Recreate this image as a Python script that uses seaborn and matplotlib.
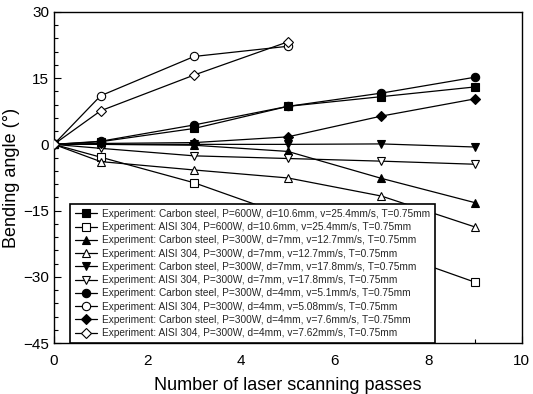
import matplotlib
matplotlib.use("Agg")
import matplotlib.pyplot as plt
from matplotlib.ticker import MultipleLocator
import seaborn as sns
import pandas as pd

sns.set_theme(style="white")
plt.rcParams['font.family'] = ['Liberation Sans', 'DejaVu Sans']

passes_full = [0, 1, 3, 5, 7, 9]
passes_short = [0, 1, 3, 5]

cs_600 = [0, 0.6, 3.6, 8.6, 10.8, 13.0]
ss_600 = [0, -2.9, -8.7, -16.2, -23.7, -31.2]
cs_d7_127 = [0, 0.0, -0.2, -1.6, -7.7, -13.2]
ss_d7_127 = [0, -3.9, -5.8, -7.6, -11.7, -18.7]
cs_d7_178 = [0, 0.0, 0.0, 0.0, 0.1, -0.6]
ss_d7_178 = [0, -0.9, -2.6, -3.2, -3.8, -4.5]
cs_d4_51 = [0, 0.7, 4.4, 8.6, 11.6, 15.2]
ss_d4_508 = [0, 11.0, 19.9, 22.2]
cs_d4_76 = [0, 0.2, 0.4, 1.7, 6.4, 10.3]
ss_d4_762 = [0, 7.6, 15.7, 23.2]

labels = [
    "Experiment: Carbon steel, P=600W, d=10.6mm, v=25.4mm/s, T=0.75mm",
    "Experiment: AISI 304, P=600W, d=10.6mm, v=25.4mm/s, T=0.75mm",
    "Experiment: Carbon steel, P=300W, d=7mm, v=12.7mm/s, T=0.75mm",
    "Experiment: AISI 304, P=300W, d=7mm, v=12.7mm/s, T=0.75mm",
    "Experiment: Carbon steel, P=300W, d=7mm, v=17.8mm/s, T=0.75mm",
    "Experiment: AISI 304, P=300W, d=7mm, v=17.8mm/s, T=0.75mm",
    "Experiment: Carbon steel, P=300W, d=4mm, v=5.1mm/s, T=0.75mm",
    "Experiment: AISI 304, P=300W, d=4mm, v=5.08mm/s, T=0.75mm",
    "Experiment: Carbon steel, P=300W, d=4mm, v=7.6mm/s, T=0.75mm",
    "Experiment: AISI 304, P=300W, d=4mm, v=7.62mm/s, T=0.75mm",
]

series = [
    (passes_full, cs_600, "s", True, 6),
    (passes_full, ss_600, "s", False, 6),
    (passes_full, cs_d7_127, "^", True, 6),
    (passes_full, ss_d7_127, "^", False, 6),
    (passes_full, cs_d7_178, "v", True, 6),
    (passes_full, ss_d7_178, "v", False, 6),
    (passes_full, cs_d4_51, "o", True, 6),
    (passes_short, ss_d4_508, "o", False, 6),
    (passes_full, cs_d4_76, "D", True, 5),
    (passes_short, ss_d4_762, "D", False, 5),
]

fig = plt.figure(figsize=(5.33, 3.94), dpi=100)
ax = fig.add_axes([0.101, 0.129, 0.878, 0.841])

for (xs, ys, mk, filled, ms), lab in zip(series, labels):
    df = pd.DataFrame({"x": xs, "y": ys})
    sns.lineplot(data=df, x="x", y="y", ax=ax, color="black", linewidth=0.9,
                 marker=mk, markersize=ms, markeredgecolor="black",
                 markerfacecolor="black" if filled else "white",
                 markeredgewidth=0.8, label=lab, zorder=3)

ax.set_xlim(0, 10)
ax.set_ylim(-45, 30)
ax.xaxis.set_major_locator(MultipleLocator(2))
ax.xaxis.set_minor_locator(MultipleLocator(1))
ax.yaxis.set_major_locator(MultipleLocator(15))
ax.yaxis.set_minor_locator(MultipleLocator(3))
ax.tick_params(which="both", direction="in", bottom=True, left=True,
               top=False, right=False, labelsize=11, colors="black")
ax.tick_params(which="major", length=5, width=0.8)
ax.tick_params(which="minor", length=3, width=0.8)
ax.tick_params(axis="x", pad=8)
for sp in ax.spines.values():
    sp.set_color("black")
    sp.set_linewidth(1.0)

ax.set_xlabel("Number of laser scanning passes", fontsize=13, color="black", labelpad=6)
ax.set_ylabel("Bending angle (\u00b0)", fontsize=13, color="black", labelpad=2)

leg = ax.legend(loc="lower left", bbox_to_anchor=(0.034, 0.0), fontsize=7.3,
                frameon=True, fancybox=False, edgecolor="black", framealpha=1,
                handlelength=2.2, handletextpad=0.5, labelspacing=0.32,
                borderpad=0.5, borderaxespad=0)
leg.get_frame().set_linewidth(1.2)
leg.set_zorder(5)

fig.savefig("out.png", dpi=100)
